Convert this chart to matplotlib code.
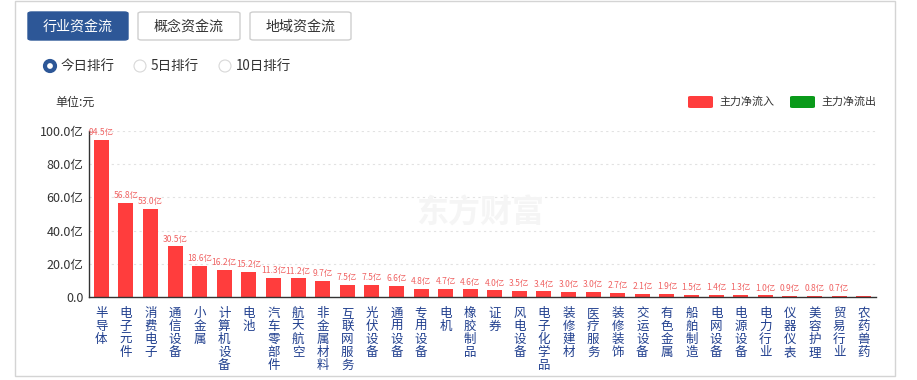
import matplotlib
matplotlib.use("Agg")
import matplotlib.pyplot as plt
from matplotlib.patches import FancyBboxPatch, Ellipse, Rectangle

plt.rcParams['font.family'] = ['Noto Sans CJK SC', 'DejaVu Sans']

# ---------------- DATA ----------------
industries = ["半导体", "电子元件", "消费电子", "通信设备", "小金属", "计算机设备", "电池",
              "汽车零部件", "航天航空", "非金属材料", "互联网服务", "光伏设备", "通用设备",
              "专用设备", "电机", "橡胶制品", "证券", "风电设备", "电子化学品", "装修建材",
              "医疗服务", "装修装饰", "交运设备", "有色金属", "船舶制造", "电网设备",
              "电源设备", "电力行业", "仪器仪表", "美容护理", "贸易行业", "农药兽药"]
inflow = [94.5, 56.8, 53.0, 30.5, 18.6, 16.2, 15.2, 11.3, 11.2, 9.7, 7.5, 7.5, 6.6,
          4.8, 4.7, 4.6, 4.0, 3.5, 3.4, 3.0, 3.0, 2.7, 2.1, 1.9, 1.5, 1.4, 1.3, 1.0,
          0.9, 0.8, 0.7, 0.6]
# the last bar carries no label in the original
bar_labels = [f"{v:.1f}亿" for v in inflow[:-1]] + [""]
y_ticks = [0, 20, 40, 60, 80, 100]
y_ticklabels = ["0.0", "20.0亿", "40.0亿", "60.0亿", "80.0亿", "100.0亿"]

W, H = 917, 380
RED = "#ff3d3d"
GREEN = "#0a9a1a"
NAVY = "#203f8e"
BLUE = "#2d5797"

def fx(x):
    return x / W

def fy(y):
    return 1 - y / H

def pt(px):
    return px * 72 / 100

fig = plt.figure(figsize=(W / 100, H / 100), dpi=100)
fig.patch.set_facecolor("white")

# ---------------- PANEL BORDER ----------------
fig.add_artist(Rectangle((fx(15), fy(376)), fx(895) - fx(15), fy(1) - fy(376),
                         transform=fig.transFigure, fill=False, edgecolor="#d4d4d4", lw=1))

# ---------------- TAB BUTTONS ----------------
tabs = [("行业资金流", 28, 128, True), ("概念资金流", 138, 240, False), ("地域资金流", 250, 351, False)]
for name, x0, x1, active in tabs:
    box = FancyBboxPatch((fx(x0), fy(40)), fx(x1) - fx(x0), fy(12) - fy(40),
                         boxstyle="round,pad=0,rounding_size=0.004",
                         transform=fig.transFigure,
                         facecolor=BLUE if active else "white",
                         edgecolor=BLUE if active else "#cfcfcf", lw=1)
    fig.add_artist(box)
    fig.text(fx((x0 + x1) / 2), fy(26.5), name, ha="center", va="center",
             fontsize=pt(14), color="white" if active else "#333333")

# ---------------- RADIO BUTTONS ----------------
radios = [("今日排行", 50, True), ("5日排行", 140, False), ("10日排行", 225, False)]
for name, cx, on in radios:
    if on:
        fig.add_artist(Ellipse((fx(cx), fy(66)), 10 / W, 10 / H, transform=fig.transFigure,
                               facecolor="white", edgecolor=BLUE, lw=3.0))
    else:
        fig.add_artist(Ellipse((fx(cx), fy(66)), 12 / W, 12 / H, transform=fig.transFigure,
                               facecolor="white", edgecolor="#d8d8d8", lw=0.8))
    fig.text(fx(cx + 11), fy(66), name, ha="left", va="center",
             fontsize=pt(13.5), color="#333333")

# ---------------- UNIT + LEGEND ----------------
fig.text(fx(55), fy(102), "单位:元", ha="left", va="center", fontsize=pt(12), color="#333333")
legend_items = [("主力净流入", 688, RED), ("主力净流出", 790, GREEN)]
for name, x0, col in legend_items:
    fig.add_artist(FancyBboxPatch((fx(x0), fy(108)), fx(25), fy(96) - fy(108),
                                  boxstyle="round,pad=0,rounding_size=0.003",
                                  transform=fig.transFigure, facecolor=col, edgecolor="none"))
    fig.text(fx(x0 + 31), fy(102), name, ha="left", va="center",
             fontsize=pt(11), color="#333333")

# ---------------- WATERMARK ----------------
fig.text(fx(480), fy(214), "东方财富", ha="center", va="center", fontsize=pt(32),
         fontweight="bold", color="#f5f5f5", zorder=0)

# ---------------- BAR CHART ----------------
ax = fig.add_axes([fx(89), fy(297), fx(876) - fx(89), fy(131) - fy(297)])
ax.set_facecolor("none")
x = range(len(industries))
bars = ax.bar(x, inflow, width=0.61, color=RED, zorder=2)
ax.bar_label(bars, labels=bar_labels, padding=2, fontsize=pt(8.5), color="#f06464")

ax.set_xlim(-0.5, len(industries) - 0.5)
ax.set_ylim(0, 100)
ax.set_yticks(y_ticks)
ax.set_yticklabels(y_ticklabels, fontsize=pt(12.5), color="#333333")
ax.set_xticks(list(x))
ax.set_xticklabels(["\n".join(name) for name in industries], fontsize=pt(12.5),
                   color=NAVY, va="top", linespacing=1.0)
ax.tick_params(axis="both", length=0, pad=4)
ax.tick_params(axis="x", pad=7)

for yv in y_ticks[1:]:
    ax.axhline(yv, color="#e2e2e2", lw=0.8, ls=(0, (2, 3)), zorder=1)

for s in ["top", "right"]:
    ax.spines[s].set_visible(False)
ax.spines["left"].set_color("#333333")
ax.spines["bottom"].set_color("#333333")
ax.spines["left"].set_linewidth(1)
ax.spines["bottom"].set_linewidth(1)

fig.savefig("out.png", dpi=100)
